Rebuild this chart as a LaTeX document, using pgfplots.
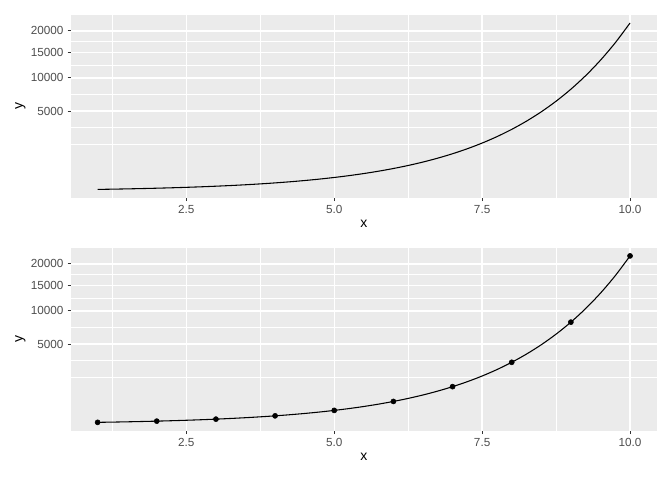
\documentclass[border=0pt]{standalone}
\usepackage{pgfplots}
\pgfplotsset{compat=1.18}
\usepackage{pgfplotstable}
\usepackage{fontspec}
\setmainfont{Liberation Sans}
\definecolor{panel}{HTML}{EBEBEB}
\definecolor{ticktext}{HTML}{4D4D4D}
\definecolor{tickcol}{HTML}{333333}

\pgfplotstableread{
x y
1 2.718
1.25 3.490
1.5 4.482
1.75 5.755
2 7.389
2.25 9.488
2.5 12.182
2.75 15.643
3 20.086
3.25 25.790
3.5 33.115
3.75 42.521
4 54.598
4.25 70.105
4.5 90.017
4.75 115.58
5 148.41
5.25 190.57
5.5 244.69
5.75 314.19
6 403.43
6.25 518.01
6.5 665.14
6.75 854.06
7 1096.63
7.25 1408.10
7.5 1808.04
7.75 2321.57
8 2980.96
8.25 3827.63
8.5 4914.77
8.75 6310.69
9 8103.08
9.25 10404.57
9.5 13359.73
9.75 17154.23
10 22026.47
}\curvedata

\pgfplotstableread{
x y
1 2.718
2 7.389
3 20.086
4 54.598
5 148.41
6 403.43
7 1096.63
8 2980.96
9 8103.08
10 22026.47
}\pointdata

\pgfplotsset{
  ggstyle/.style={
    scale only axis,
    width=439.25pt, height=137.3pt,
    xmin=0.55, xmax=10.45,
    ymin=-5.690, ymax=155.751,
    y filter/.code={\pgfmathparse{sqrt(\pgfmathresult)}},
    axis background/.style={fill=panel},
    axis line style={draw=none},
    xtick={2.5,5,7.5,10},
    xticklabels={2.5,5.0,7.5,10.0},
    ytick={70.711,100,122.474,141.421},
    yticklabels={5000,10000,15000,20000},
    minor xtick={1.25,3.75,6.25,8.75},
    minor ytick={41.421,56.066,85.355,111.237,131.948},
    grid=both,
    major grid style={white, line width=1.1pt},
    minor grid style={white, line width=0.55pt},
    tick align=outside,
    major tick length=2.5pt,
    minor tick length=0pt,
    major tick style={tickcol, line width=0.8pt},
    xtick pos=bottom, ytick pos=left,
    tick label style={font=\fontsize{8.8}{10.5}\selectfont, text=ticktext},
    /pgf/number format/assume math mode=true,
    xticklabel style={anchor=north, inner sep=0pt, yshift=-2.8pt},
    yticklabel style={anchor=east, inner sep=0pt, xshift=-3.0pt},
    xlabel={x}, ylabel={y},
    label style={font=\fontsize{10.5}{12.5}\selectfont},
    xlabel style={at={(axis description cs:0.5,-0.1639)}, anchor=base, inner sep=0pt},
    ylabel style={at={(axis description cs:-0.0825,0.5)}, anchor=base, inner sep=0pt},
  }
}

\begin{document}
\begin{tikzpicture}
\useasboundingbox (0,0) rectangle (504pt,360pt);
\begin{axis}[ggstyle, at={(53.25pt,211.7pt)}, anchor=south west]
  \addplot[black, line width=0.8pt, smooth, no marks] table[x=x,y=y] {\curvedata};
\end{axis}
\begin{axis}[ggstyle, at={(53.25pt,37.0pt)}, anchor=south west]
  \addplot[black, line width=0.8pt, smooth, no marks] table[x=x,y=y] {\curvedata};
  \addplot[only marks, mark=*, mark size=1.9pt, black] table[x=x,y=y] {\pointdata};
\end{axis}
\end{tikzpicture}
\end{document}
